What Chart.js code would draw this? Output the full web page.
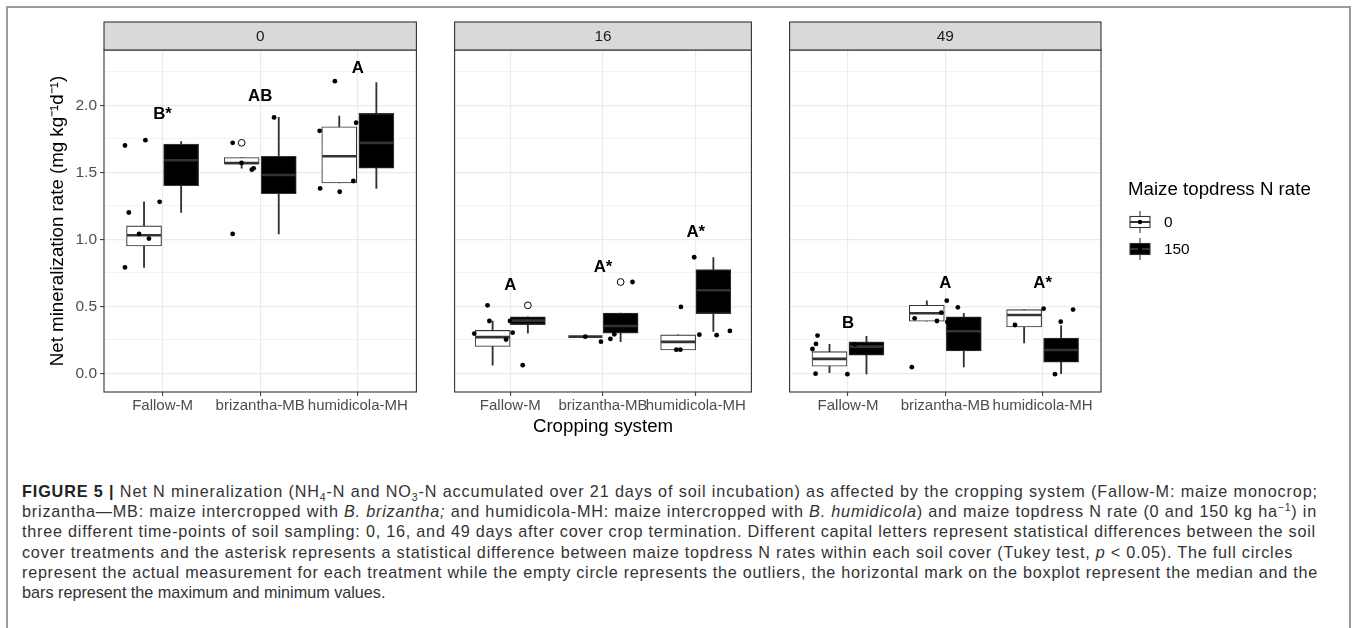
<!DOCTYPE html>
<html>
<head>
<meta charset="utf-8">
<script src="https://cdn.jsdelivr.net/npm/chart.js@4.4.0/dist/chart.umd.min.js"></script>
<style>
  html, body { margin: 0; padding: 0; background: #fff; }
  #fig { position: relative; width: 1357px; height: 628px; overflow: hidden; background: #fff; }
  #frame { position: absolute; left: 6px; top: 6px; width: 1341px; height: 700px; border: 2px solid #9b9b9b; }
  canvas { position: absolute; top: 0; }
  #caption { position: absolute; left: 22px; top: 481px; font: 16.2px "Liberation Sans", Arial, sans-serif; color: #333; line-height: 20.2px; }
  #caption div { white-space: nowrap; }
  #caption b { font-weight: 700; color: #222; }
  #caption sub, #caption sup { font-size: 10.5px; line-height: 0; }
</style>
</head>
<body>
<div id="fig">
  <div id="frame"></div>
  <canvas id="c0" width="436" height="440" style="left:0px"></canvas>
  <canvas id="c16" width="336" height="440" style="left:435px"></canvas>
  <canvas id="c49" width="581" height="440" style="left:770px"></canvas>
  <div id="caption">
    <div><span class="fit"><b>FIGURE 5 |</b> Net N mineralization (NH<sub>4</sub>-N and NO<sub>3</sub>-N accumulated over 21 days of soil incubation) as affected by the cropping system (Fallow-M: maize monocrop;</span></div>
    <div><span class="fit">brizantha—MB: maize intercropped with <i>B. brizantha;</i> and humidicola-MH: maize intercropped with <i>B. humidicola</i>) and maize topdress N rate (0 and 150 kg ha<sup>−1</sup>) in</span></div>
    <div><span class="fit">three different time-points of soil sampling: 0, 16, and 49 days after cover crop termination. Different capital letters represent statistical differences between the soil</span></div>
    <div><span class="fit">cover treatments and the asterisk represents a statistical difference between maize topdress N rates within each soil cover (Tukey test, <i>p</i> &lt; 0.05). The full circles</span></div>
    <div><span class="fit">represent the actual measurement for each treatment while the empty circle represents the outliers, the horizontal mark on the boxplot represent the median and the</span></div>
    <div><span>bars represent the maximum and minimum values.</span></div>
  </div>
</div>
<script>
"use strict";

const categories = ["Fallow-M", "brizantha-MB", "humidicola-MH"];
const panels = ["0", "16", "49"];
const nRates = ["0", "150"];
const yTicks = [0, 0.25, 0.5, 0.75, 1, 1.25, 1.5, 1.75, 2, 2.25];

// boxplot stats per cropping system: [min, q1, median, q3, max]
const box0N0 = [[0.79, 0.95, 1.03, 1.10, 1.28], [1.53, 1.56, 1.57, 1.61, 1.61], [1.42, 1.42, 1.62, 1.84, 1.92]];
const box0N150 = [[1.20, 1.40, 1.59, 1.71, 1.73], [1.04, 1.34, 1.48, 1.62, 1.91], [1.38, 1.53, 1.72, 1.94, 2.17]];
const box16N0 = [[0.06, 0.20, 0.27, 0.32, 0.39], [0.273, 0.273, 0.273, 0.273, 0.273], [0.174, 0.174, 0.234, 0.286, 0.286]];
const box16N150 = [[0.30, 0.363, 0.393, 0.422, 0.422], [0.236, 0.30, 0.353, 0.45, 0.45], [0.313, 0.445, 0.619, 0.773, 0.863]];
const box49N0 = [[0.0, 0.052, 0.107, 0.161, 0.216], [0.388, 0.388, 0.448, 0.507, 0.54], [0.226, 0.345, 0.435, 0.475, 0.475]];
const box49N150 = [[-0.005, 0.134, 0.199, 0.234, 0.276], [0.047, 0.166, 0.313, 0.422, 0.448], [-0.003, 0.082, 0.174, 0.263, 0.355]];

// outliers: [category number, value]
const outliers0N0 = [[2, 1.72]];
const outliers0N150 = [];
const outliers16N0 = [];
const outliers16N150 = [[1, 0.507], [2, 0.681]];
const outliers49N0 = [];
const outliers49N150 = [];

// jittered measurements: [x in category units, value]
const points0 = [
  [0.615, 1.70], [0.654, 1.20], [0.615, 0.79], [0.759, 1.04], [0.860, 1.005], [0.824, 1.74], [0.970, 1.28],
  [1.718, 1.72], [1.809, 1.57], [1.914, 1.52], [1.933, 1.53], [1.718, 1.04], [2.142, 1.91],
  [2.609, 1.81], [2.765, 2.18], [2.614, 1.38], [2.814, 1.355], [2.983, 1.87], [2.954, 1.435]
];
const points16 = [
  [0.755, 0.507], [0.775, 0.39], [0.612, 0.296], [0.955, 0.251], [0.997, 0.39], [1.026, 0.303], [1.134, 0.06],
  [1.809, 0.273], [1.978, 0.236], [2.080, 0.256], [2.122, 0.291], [2.318, 0.681],
  [2.840, 0.495], [2.791, 0.176], [2.834, 0.176], [2.983, 0.866], [3.039, 0.288], [3.225, 0.284], [3.368, 0.316]
];
const points49 = [
  [0.687, 0.281], [0.671, 0.219], [0.635, 0.181], [0.667, -0.003], [0.994, -0.007], [1.072, 0.216],
  [1.685, 0.41], [1.656, 0.045], [1.914, 0.39], [1.959, 0.452], [2.015, 0.542], [2.021, 0.383], [2.129, 0.492],
  [2.716, 0.36], [3.010, 0.482], [3.186, 0.385], [3.313, 0.475], [3.127, -0.007]
];

// significance letters and their heights
const letters0 = ["B*", "AB", "A"];
const letterY0 = [1.93, 2.065, 2.276];
const letters16 = ["A", "A*", "A*"];
const letterY16 = [0.659, 0.791, 1.052];
const letters49 = ["B", "A", "A*"];
const letterY49 = [0.373, 0.672, 0.672];

const FONT = "'Liberation Sans', Arial, sans-serif";
const DODGE = 0.19;
Chart.defaults.font.family = FONT;

function drawLegend(ctx, x0) {
  ctx.textAlign = "left";
  ctx.textBaseline = "middle";
  ctx.fillStyle = "#000";
  ctx.font = "18.7px " + FONT;
  ctx.fillText("Maize topdress N rate", x0, 190);
  const fills = ["#fff", "#000"];
  nRates.forEach((rate, i) => {
    const cy = 222 + i * 27;
    const cx = x0 + 12;
    ctx.strokeStyle = "#333";
    ctx.lineWidth = 1.1;
    ctx.beginPath();
    ctx.moveTo(cx, cy - 11);
    ctx.lineTo(cx, cy + 11);
    ctx.stroke();
    ctx.fillStyle = fills[i];
    ctx.fillRect(cx - 10, cy - 5.5, 20, 11);
    ctx.strokeRect(cx - 10, cy - 5.5, 20, 11);
    ctx.lineWidth = 2;
    ctx.beginPath();
    ctx.moveTo(cx - 10, cy);
    ctx.lineTo(cx + 10, cy);
    ctx.stroke();
    ctx.fillStyle = "#000";
    ctx.beginPath();
    ctx.arc(cx, cy, 2.2, 0, Math.PI * 2);
    ctx.fill();
    ctx.font = "15.4px " + FONT;
    ctx.fillText(rate, x0 + 36, cy + 1);
  });
}

const facetPlugin = {
  id: "facet",
  afterDatasetsDraw(chart, args, opts) {
    const { ctx, chartArea: a, scales: { x, y } } = chart;
    ctx.save();
    ctx.strokeStyle = "#333";
    ctx.lineWidth = 1.1;
    ctx.strokeRect(a.left, a.top, a.right - a.left, a.bottom - a.top);
    // strip header
    ctx.fillStyle = "#d9d9d9";
    ctx.fillRect(a.left, 22, a.right - a.left, a.top - 22);
    ctx.strokeRect(a.left, 22, a.right - a.left, a.top - 22);
    ctx.fillStyle = "#1a1a1a";
    ctx.font = "15.4px " + FONT;
    ctx.textAlign = "center";
    ctx.textBaseline = "middle";
    ctx.fillText(opts.strip, (a.left + a.right) / 2, (22 + a.top) / 2 + 1);
    // letters
    ctx.fillStyle = "#000";
    ctx.font = "bold 16.8px " + FONT;
    opts.letters.forEach((t, i) => {
      ctx.fillText(t, x.getPixelForValue(i + 1), y.getPixelForValue(opts.letterY[i]));
    });
    if (opts.legend) drawLegend(ctx, a.right + 27);
    ctx.restore();
  },
};

function boxDatasets(stats, side, fill) {
  const xs = stats.map((s, i) => i + 1 + side * DODGE);
  return [
    {
      type: "bar", order: 4, grouped: false, barThickness: 1.2,
      data: stats.map((s, i) => ({ x: xs[i], y: [s[0], s[4]] })),
      backgroundColor: "#333",
    },
    {
      type: "bar", order: 3, grouped: false, barThickness: 35,
      data: stats.map((s, i) => ({ x: xs[i], y: [s[1], s[3]] })),
      backgroundColor: fill, borderColor: "#333", borderWidth: 1.1, borderSkipped: false,
    },
    {
      type: "scatter", order: 2,
      data: stats.map((s, i) => ({ x: xs[i], y: s[2] })),
      pointStyle: "line", pointRadius: 17, borderColor: "#333", borderWidth: 2.6,
    },
  ];
}

function outlierDataset(list, side) {
  return {
    type: "scatter", order: 1,
    data: list.map((o) => ({ x: o[0] + side * DODGE, y: o[1] })),
    pointRadius: 3.4, backgroundColor: "#fff", borderColor: "#000", borderWidth: 1,
  };
}

function makeChart(id, p) {
  const first = p.index === 0;
  const datasets = [
    ...boxDatasets(p.n0, -1, "#fff"),
    ...boxDatasets(p.n150, 1, "#000"),
    outlierDataset(p.out0, -1),
    outlierDataset(p.out150, 1),
    {
      type: "scatter", order: 0,
      data: p.points.map((q) => ({ x: q[0], y: q[1] })),
      pointRadius: 2.4, backgroundColor: "#000", borderWidth: 0,
    },
  ];
  return new Chart(document.getElementById(id), {
    type: "bar",
    data: { datasets },
    plugins: [facetPlugin],
    options: {
      responsive: false,
      animation: false,
      devicePixelRatio: 1,
      layout: { padding: { top: 50, left: first ? 0 : 5, right: p.rightPad, bottom: 0 } },
      plugins: {
        legend: { display: false },
        tooltip: { enabled: false },
        facet: { strip: p.strip, letters: p.letters, letterY: p.letterY, legend: p.index === 2 },
      },
      scales: {
        x: {
          type: "linear", min: 0.4, max: 3.6, offset: false,
          afterBuildTicks: (axis) => { axis.ticks = categories.map((c, i) => ({ value: i + 1 })); },
          afterFit: (axis) => { axis.height = 48; },
          ticks: {
            autoSkip: false, maxRotation: 0, padding: 1,
            color: "#4d4d4d", font: { size: 15 },
            callback: (v) => categories[Math.round(v) - 1],
          },
          grid: { offset: false, color: "#ebebeb", lineWidth: 1.2, tickColor: "#333", tickLength: 4, tickWidth: 1 },
          border: { display: false },
          title: {
            display: p.index === 1, text: "Cropping system", color: "#000",
            font: { size: 18.7 }, padding: { top: 0, bottom: 1.8 },
          },
        },
        y: {
          type: "linear", min: -0.14, max: 2.413,
          afterBuildTicks: (axis) => { axis.ticks = yTicks.map((v) => ({ value: v })); },
          afterFit: (axis) => { axis.width = first ? 104 : 0; },
          ticks: {
            display: first, padding: 3, color: "#4d4d4d", font: { size: 15.5 },
            callback: (v) => (v % 0.5 === 0 ? v.toFixed(1) : ""),
          },
          grid: {
            color: "#ebebeb",
            lineWidth: (c) => (c.tick && c.tick.value % 0.5 === 0 ? 1.2 : 0.6),
            drawTicks: first, tickLength: 4, tickWidth: 1,
            tickColor: (c) => (c.tick && c.tick.value % 0.5 === 0 ? "#333" : "rgba(0,0,0,0)"),
          },
          border: { display: false },
          title: {
            display: first, text: "Net mineralization rate (mg kg⁻¹d⁻¹)", color: "#000",
            font: { size: 18.7 }, padding: { top: 46.8, bottom: 0 },
          },
        },
      },
    },
  });
}

const facets = [
  { index: 0, strip: panels[0], n0: box0N0, n150: box0N150, out0: outliers0N0, out150: outliers0N150, points: points0, letters: letters0, letterY: letterY0, rightPad: 5 },
  { index: 1, strip: panels[1], n0: box16N0, n150: box16N150, out0: outliers16N0, out150: outliers16N150, points: points16, letters: letters16, letterY: letterY16, rightPad: 5 },
  { index: 2, strip: panels[2], n0: box49N0, n150: box49N150, out0: outliers49N0, out150: outliers49N150, points: points49, letters: letters49, letterY: letterY49, rightPad: 250 },
];
makeChart("c0", facets[0]);
makeChart("c16", facets[1]);
makeChart("c49", facets[2]);

// stretch caption lines to the justified widths of the original
const captionWidths = [1296, 1295, 1294, 1271, 1296];
document.querySelectorAll("#caption .fit").forEach((el, i) => {
  const w = el.getBoundingClientRect().width;
  const n = el.textContent.length;
  el.style.letterSpacing = ((captionWidths[i] - w) / n).toFixed(3) + "px";
});
</script>
</body>
</html>
